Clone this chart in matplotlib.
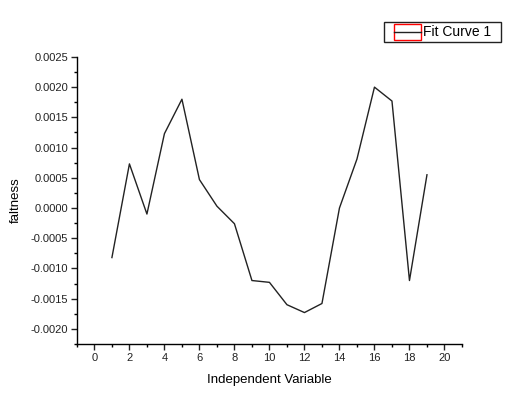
import matplotlib
matplotlib.use('Agg')
import matplotlib.pyplot as plt
from matplotlib.lines import Line2D
from matplotlib.patches import Rectangle
from matplotlib.legend_handler import HandlerBase
from matplotlib.ticker import MultipleLocator, FormatStrFormatter

plt.rcParams['font.family'] = ['Liberation Sans', 'DejaVu Sans']

x = [1, 2, 3, 4, 5, 6, 7, 8, 9, 10, 11, 12, 13, 14, 15, 16, 17, 18, 19]
faltness = [-0.00082, 0.00073, -0.0001, 0.00123, 0.0018, 0.00047, 0.00003,
            -0.00026, -0.0012, -0.00123, -0.0016, -0.00173, -0.00158, 0.0,
            0.00081, 0.002, 0.00177, -0.0012, 0.00055]


class BoxLineHandler(HandlerBase):
    # red box with the black line through it, indented from the frame
    def create_artists(self, legend, orig_handle, xdescent, ydescent,
                       width, height, fontsize, trans):
        x0 = -xdescent + width * 0.22
        w = width - width * 0.22
        y0 = -ydescent
        box = Rectangle((x0, y0), w, height, fc='none', ec='red', lw=1.0,
                        transform=trans)
        ln = Line2D([x0, x0 + w], [y0 + height / 2] * 2, color='#222222',
                    lw=1.0, transform=trans)
        return [box, ln]


fig = plt.figure(figsize=(5.06, 3.98), dpi=100)
ax = fig.add_axes([0.152, 0.1357, 0.761, 0.7213])

line, = ax.plot(x, faltness, color='#222222', lw=1.0)

ax.set_xlim(-1, 21)
ax.set_ylim(-0.00225, 0.0025)
ax.xaxis.set_major_locator(MultipleLocator(2))
ax.xaxis.set_minor_locator(MultipleLocator(1))
ax.yaxis.set_major_locator(MultipleLocator(0.0005))
ax.yaxis.set_minor_locator(MultipleLocator(0.00025))
ax.yaxis.set_major_formatter(FormatStrFormatter('%.4f'))

for s in ['top', 'right']:
    ax.spines[s].set_visible(False)
for s in ['left', 'bottom']:
    ax.spines[s].set_linewidth(1.0)
ax.tick_params(which='major', direction='out', length=4.5, width=1,
               labelsize=8, colors='#222222', pad=2)
ax.tick_params(which='minor', direction='out', length=2.5, width=1)

ax.set_xlabel('Independent Variable', fontsize=9.5, labelpad=8)
ax.set_ylabel('faltness', fontsize=9.5, labelpad=6)

leg = fig.legend([line], ['Fit Curve 1  '],
                 handler_map={Line2D: BoxLineHandler()},
                 loc='upper right', bbox_to_anchor=(0.99, 0.945),
                 fontsize=10, fancybox=False, framealpha=1,
                 edgecolor='#222222', borderpad=0.12, handlelength=2.5,
                 handleheight=1.45, handletextpad=0.2, borderaxespad=0)
leg.get_frame().set_linewidth(1.0)

fig.savefig('out.png', dpi=100)
